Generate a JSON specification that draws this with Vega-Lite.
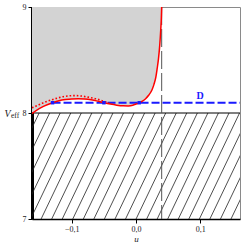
{
  "$schema": "https://vega.github.io/schema/vega-lite/v6.json",
  "width": 208,
  "height": 212,
  "autosize": {"type": "none"},
  "padding": {"left": 32, "top": 7, "right": 5, "bottom": 26},
  "config": {
    "view": {"stroke": "#8a8a8a", "strokeWidth": 1},
    "font": "Liberation Serif"
  },
  "datasets": {
    "curve": [
      {"u": -0.162, "V": 7.995}, {"u": -0.155, "V": 8.025}, {"u": -0.145, "V": 8.06},
      {"u": -0.13, "V": 8.097}, {"u": -0.12, "V": 8.116}, {"u": -0.11, "V": 8.127},
      {"u": -0.1, "V": 8.133}, {"u": -0.09, "V": 8.134}, {"u": -0.08, "V": 8.131},
      {"u": -0.07, "V": 8.124}, {"u": -0.06, "V": 8.112}, {"u": -0.05, "V": 8.097},
      {"u": -0.04, "V": 8.084}, {"u": -0.03, "V": 8.074}, {"u": -0.02, "V": 8.068},
      {"u": -0.012, "V": 8.067}, {"u": -0.005, "V": 8.073}, {"u": 0.0, "V": 8.084},
      {"u": 0.005, "V": 8.097}, {"u": 0.01, "V": 8.112}, {"u": 0.015, "V": 8.135},
      {"u": 0.02, "V": 8.17}, {"u": 0.025, "V": 8.22}, {"u": 0.028, "V": 8.27},
      {"u": 0.031, "V": 8.34}, {"u": 0.033, "V": 8.42}, {"u": 0.035, "V": 8.51},
      {"u": 0.037, "V": 8.64}, {"u": 0.0385, "V": 8.78}, {"u": 0.0395, "V": 8.9},
      {"u": 0.04, "V": 9.0}
    ],
    "dotted": [
      {"u": -0.162, "V": 8.05}, {"u": -0.158, "V": 8.059}, {"u": -0.145, "V": 8.095},
      {"u": -0.132, "V": 8.123}, {"u": -0.12, "V": 8.145}, {"u": -0.112, "V": 8.156},
      {"u": -0.096, "V": 8.164}, {"u": -0.085, "V": 8.16}, {"u": -0.075, "V": 8.15},
      {"u": -0.06, "V": 8.13}, {"u": -0.05, "V": 8.11}, {"u": -0.042, "V": 8.095}
    ],
    "hatch": [
      {"xb": -0.2299, "xt": -0.1509}, {"xb": -0.2135, "xt": -0.1345}, {"xb": -0.1971, "xt": -0.1181},
      {"xb": -0.1806, "xt": -0.1016}, {"xb": -0.1642, "xt": -0.0852}, {"xb": -0.1478, "xt": -0.0688},
      {"xb": -0.1313, "xt": -0.0523}, {"xb": -0.1149, "xt": -0.0359}, {"xb": -0.0985, "xt": -0.0195},
      {"xb": -0.082, "xt": -0.003}, {"xb": -0.0656, "xt": 0.0134}, {"xb": -0.0492, "xt": 0.0298},
      {"xb": -0.0327, "xt": 0.0463}, {"xb": -0.0163, "xt": 0.0627}, {"xb": 0.0001, "xt": 0.0791},
      {"xb": 0.0166, "xt": 0.0956}, {"xb": 0.033, "xt": 0.112}, {"xb": 0.0494, "xt": 0.1284},
      {"xb": 0.0659, "xt": 0.1449}, {"xb": 0.0823, "xt": 0.1613}, {"xb": 0.0987, "xt": 0.1777},
      {"xb": 0.1151, "xt": 0.1941}, {"xb": 0.1316, "xt": 0.2106}, {"xb": 0.148, "xt": 0.227}
    ],
    "dots": [
      {"u": -0.13, "V": 8.097}, {"u": -0.05, "V": 8.097}, {"u": 0.005, "V": 8.097}
    ]
  },
  "layer": [
    {
      "data": {"name": "curve"},
      "mark": {"type": "area", "color": "#d3d3d3", "interpolate": "monotone", "clip": true},
      "encoding": {
        "x": {"field": "u", "type": "quantitative", "title": "u",
          "scale": {"domain": [-0.162, 0.162], "nice": false, "zero": false},
          "axis": {"values": [-0.1, 0, 0.1], "labelExpr": "replace(format(datum.value, '.1f'), '.', ',')",
            "labelOverlap": false,
            "grid": false, "domainColor": "black", "domainWidth": 1.5, "tickColor": "black", "tickSize": 4,
            "labelFont": "Liberation Serif", "labelFontSize": 8, "labelColor": "#222", "labelPadding": 2,
            "titleFont": "Liberation Serif", "titleFontStyle": "italic", "titleFontWeight": "normal",
            "titleFontSize": 9, "titleColor": "#222", "titlePadding": 1}},
        "y": {"field": "V", "type": "quantitative", "title": "V",
          "scale": {"domain": [7, 9], "nice": false, "zero": false},
          "axis": {"values": [7, 8, 9], "labelExpr": "format(datum.value, 'd')", "labelOverlap": false, "labelBound": false, "labelFlush": false,
            "grid": false, "domainColor": "black", "domainWidth": 3,
            "tickColor": "black", "tickSize": 4, "labelFont": "Liberation Serif", "labelFontSize": 8,
            "labelColor": "#222", "labelPadding": 2,
            "titleAngle": 0, "titleX": -25, "titleY": 106, "titleAlign": "center",
            "titleBaseline": "middle", "titleFont": "Liberation Serif", "titleFontStyle": "italic",
            "titleFontWeight": "normal", "titleFontSize": 10, "titleColor": "#222"}},
        "y2": {"datum": 9}
      }
    },
    {
      "data": {"name": "hatch"},
      "mark": {"type": "rule", "color": "#222", "strokeWidth": 0.8, "clip": true},
      "encoding": {
        "x": {"field": "xb", "type": "quantitative", "title": "u", "scale": {"domain": [-0.162, 0.162], "nice": false, "zero": false}},
        "x2": {"field": "xt"},
        "y": {"datum": 7, "type": "quantitative", "title": "V", "scale": {"domain": [7, 9], "nice": false, "zero": false}},
        "y2": {"datum": 8}
      }
    },
    {
      "data": {"values": [{"u": -0.162, "u2": 0.162, "V": 8}]},
      "mark": {"type": "rule", "color": "black", "strokeWidth": 1.2},
      "encoding": {
        "x": {"field": "u", "type": "quantitative", "title": "u", "scale": {"domain": [-0.162, 0.162], "nice": false, "zero": false}},
        "x2": {"field": "u2"},
        "y": {"field": "V", "type": "quantitative", "title": "V", "scale": {"domain": [7, 9], "nice": false, "zero": false}}
      }
    },
    {
      "data": {"values": [{"u": 0.04}]},
      "mark": {"type": "rule", "color": "#555", "strokeWidth": 1, "strokeDash": [18, 4]},
      "encoding": {
        "x": {"field": "u", "type": "quantitative", "title": "u", "scale": {"domain": [-0.162, 0.162], "nice": false, "zero": false}}
      }
    },
    {
      "data": {"values": [{"u": -0.13, "u2": 0.162, "V": 8.097}]},
      "mark": {"type": "rule", "color": "#1a1aff", "strokeWidth": 2, "strokeDash": [8, 3], "clip": true},
      "encoding": {
        "x": {"field": "u", "type": "quantitative", "title": "u", "scale": {"domain": [-0.162, 0.162], "nice": false, "zero": false}},
        "x2": {"field": "u2"},
        "y": {"field": "V", "type": "quantitative", "title": "V", "scale": {"domain": [7, 9], "nice": false, "zero": false}}
      }
    },
    {
      "data": {"name": "curve"},
      "mark": {"type": "line", "color": "#ff0000", "strokeWidth": 1.5, "interpolate": "monotone", "clip": true},
      "encoding": {
        "x": {"field": "u", "type": "quantitative", "title": "u", "scale": {"domain": [-0.162, 0.162], "nice": false, "zero": false}},
        "y": {"field": "V", "type": "quantitative", "title": "V", "scale": {"domain": [7, 9], "nice": false, "zero": false}}
      }
    },
    {
      "data": {"name": "dotted"},
      "mark": {"type": "line", "color": "#ff0000", "strokeWidth": 1.6, "strokeDash": [1.6, 2], "interpolate": "monotone", "clip": true},
      "encoding": {
        "x": {"field": "u", "type": "quantitative", "title": "u", "scale": {"domain": [-0.162, 0.162], "nice": false, "zero": false}},
        "y": {"field": "V", "type": "quantitative", "title": "V", "scale": {"domain": [7, 9], "nice": false, "zero": false}}
      }
    },
    {
      "data": {"name": "dots"},
      "mark": {"type": "point", "shape": "square", "filled": true, "color": "#1a1aff", "size": 12, "opacity": 1},
      "encoding": {
        "x": {"field": "u", "type": "quantitative", "title": "u", "scale": {"domain": [-0.162, 0.162], "nice": false, "zero": false}},
        "y": {"field": "V", "type": "quantitative", "title": "V", "scale": {"domain": [7, 9], "nice": false, "zero": false}}
      }
    },
    {
      "data": {"values": [{"u": 0.1, "V": 8.16, "t": "D"}]},
      "mark": {"type": "text", "color": "#1a1aff", "font": "Liberation Serif", "fontWeight": "bold", "fontSize": 10, "align": "center", "baseline": "middle"},
      "encoding": {
        "x": {"field": "u", "type": "quantitative", "title": "u", "scale": {"domain": [-0.162, 0.162], "nice": false, "zero": false}},
        "y": {"field": "V", "type": "quantitative", "title": "V", "scale": {"domain": [7, 9], "nice": false, "zero": false}},
        "text": {"field": "t"}
      }
    },
    {
      "data": {"values": [{"u": -0.162, "V": 8, "t": "eff"}]},
      "mark": {"type": "text", "color": "#222", "font": "Liberation Serif", "fontSize": 7.5, "align": "left", "baseline": "middle", "dx": -21, "dy": 3, "clip": false},
      "encoding": {
        "x": {"field": "u", "type": "quantitative", "title": "u", "scale": {"domain": [-0.162, 0.162], "nice": false, "zero": false}},
        "y": {"field": "V", "type": "quantitative", "title": "V", "scale": {"domain": [7, 9], "nice": false, "zero": false}},
        "text": {"field": "t"}
      }
    }
  ]
}
